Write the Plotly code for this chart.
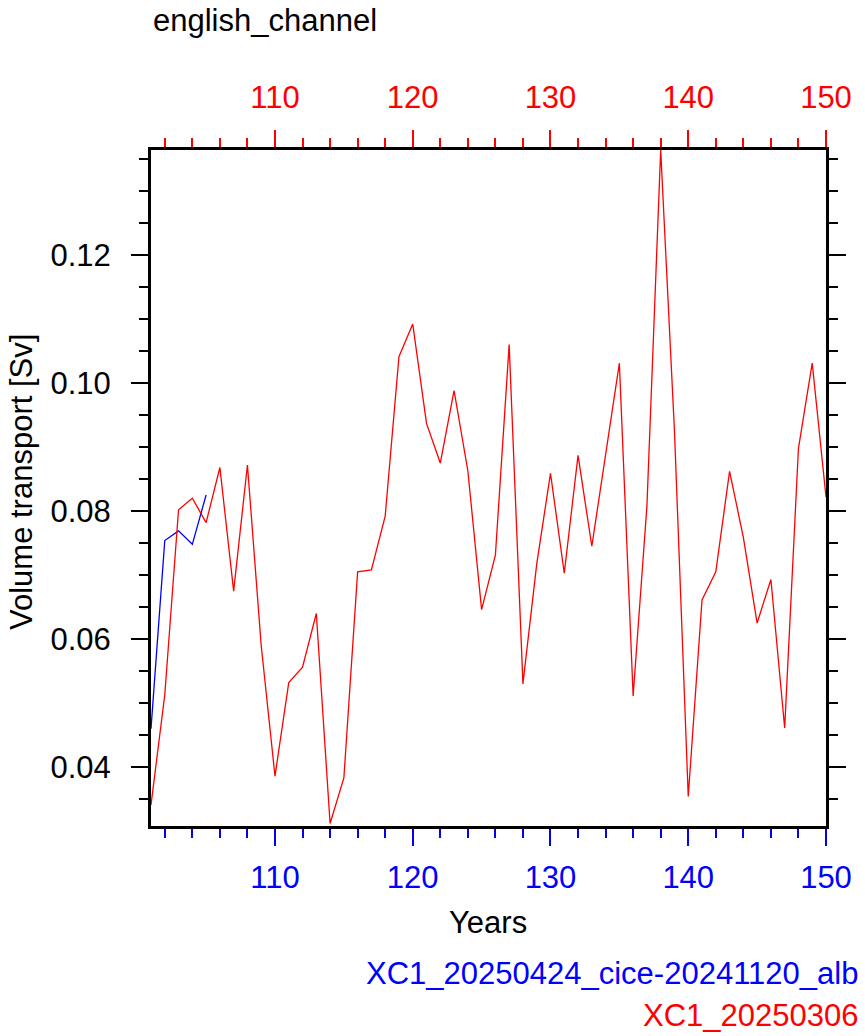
import plotly.graph_objects as go

years_red = list(range(101, 151))
red_vals = [0.0341, 0.0513, 0.0802, 0.0820, 0.0782, 0.0868, 0.0675, 0.0872, 0.0590, 0.0386,
            0.0532, 0.0556, 0.0640, 0.0312, 0.0383, 0.0705, 0.0708, 0.0792, 0.1041, 0.1092,
            0.0937, 0.0875, 0.0988, 0.0863, 0.0646, 0.0731, 0.1060, 0.0530, 0.0717, 0.0859,
            0.0703, 0.0887, 0.0745, 0.0887, 0.1031, 0.0511, 0.0808, 0.1364, 0.0925, 0.0354,
            0.0661, 0.0705, 0.0862, 0.0759, 0.0625, 0.0693, 0.0461, 0.0898, 0.1031, 0.0822]
years_blue = [101, 102, 103, 104, 105]
blue_vals = [0.0460, 0.0754, 0.0769, 0.0748, 0.0825]

name_blue = "XC1_20250424_cice-20241120_alb"
name_red = "XC1_20250306"
title = "english_channel"
xlabel = "Years"
ylabel = "Volume transport [Sv]"

FONT = "Liberation Sans, Arial, Helvetica, sans-serif"
BLUE = "#0000ff"
RED = "#ff0000"
FS = 31

fig = go.Figure()
fig.add_trace(go.Scatter(x=years_blue, y=blue_vals, mode="lines", xaxis="x", yaxis="y",
                         line=dict(color=BLUE, width=1.3), showlegend=False))
fig.add_trace(go.Scatter(x=years_red, y=red_vals, mode="lines", xaxis="x2", yaxis="y",
                         line=dict(color=RED, width=1.3), showlegend=False))

xr = [101, 150]
common_x = dict(range=xr, showgrid=False, zeroline=False, showline=True, linecolor="black",
                linewidth=3, ticks="outside", ticklen=17, tickwidth=2, dtick=10, tick0=100)
fig.update_layout(
    width=865, height=1036,
    margin=dict(l=151, r=39, t=150, b=210),
    paper_bgcolor="white", plot_bgcolor="white",
    font=dict(family=FONT, size=FS, color="black"),
    xaxis=dict(**common_x, side="bottom", anchor="y", tickcolor=BLUE,
               tickfont=dict(color=BLUE, size=FS), ticklabelstandoff=5,
               minor=dict(dtick=2, tick0=0, ticklen=9, tickwidth=1.5, tickcolor=BLUE, ticks="outside")),
    xaxis2=dict(**common_x, side="top", anchor="y", overlaying="x", tickcolor=RED,
                tickfont=dict(color=RED, size=FS), ticklabelstandoff=10,
                minor=dict(dtick=2, tick0=0, ticklen=9, tickwidth=1.5, tickcolor=RED, ticks="outside")),
    yaxis=dict(range=[0.0308, 0.1364], showgrid=False, zeroline=False, showline=True,
               linecolor="black", linewidth=3, mirror="ticks", ticks="outside", ticklen=17,
               tickwidth=2, tickcolor="black", dtick=0.02, tick0=0, tickformat=".2f",
               tickfont=dict(size=FS, color="black"), ticklabelstandoff=14,
               minor=dict(dtick=0.005, tick0=0, ticklen=9, tickwidth=1.5, tickcolor="black",
                          ticks="outside")),
    annotations=[
        dict(text=title, x=0, y=(826 - 20) / 676, xref="paper", yref="paper",
             xanchor="left", yanchor="middle", showarrow=False, font=dict(size=FS, color="black")),
        dict(text=xlabel, x=(488 - 151) / 675, y=(826 - 922) / 676, xref="paper", yref="paper",
             xanchor="center", yanchor="middle", showarrow=False, font=dict(size=FS, color="black")),
        dict(text=ylabel, x=(22 - 151) / 675, y=(826 - 482) / 676, xref="paper", yref="paper",
             xanchor="center", yanchor="middle", textangle=-90, showarrow=False,
             font=dict(size=FS, color="black")),
        dict(text=name_blue, x=(860 - 151) / 675, y=(826 - 973) / 676, xref="paper", yref="paper",
             xanchor="right", yanchor="middle", showarrow=False, font=dict(size=FS, color=BLUE)),
        dict(text=name_red, x=(860 - 151) / 675, y=(826 - 1015) / 676, xref="paper", yref="paper",
             xanchor="right", yanchor="middle", showarrow=False, font=dict(size=FS, color=RED)),
    ],
)

fig.write_html("out.html")
